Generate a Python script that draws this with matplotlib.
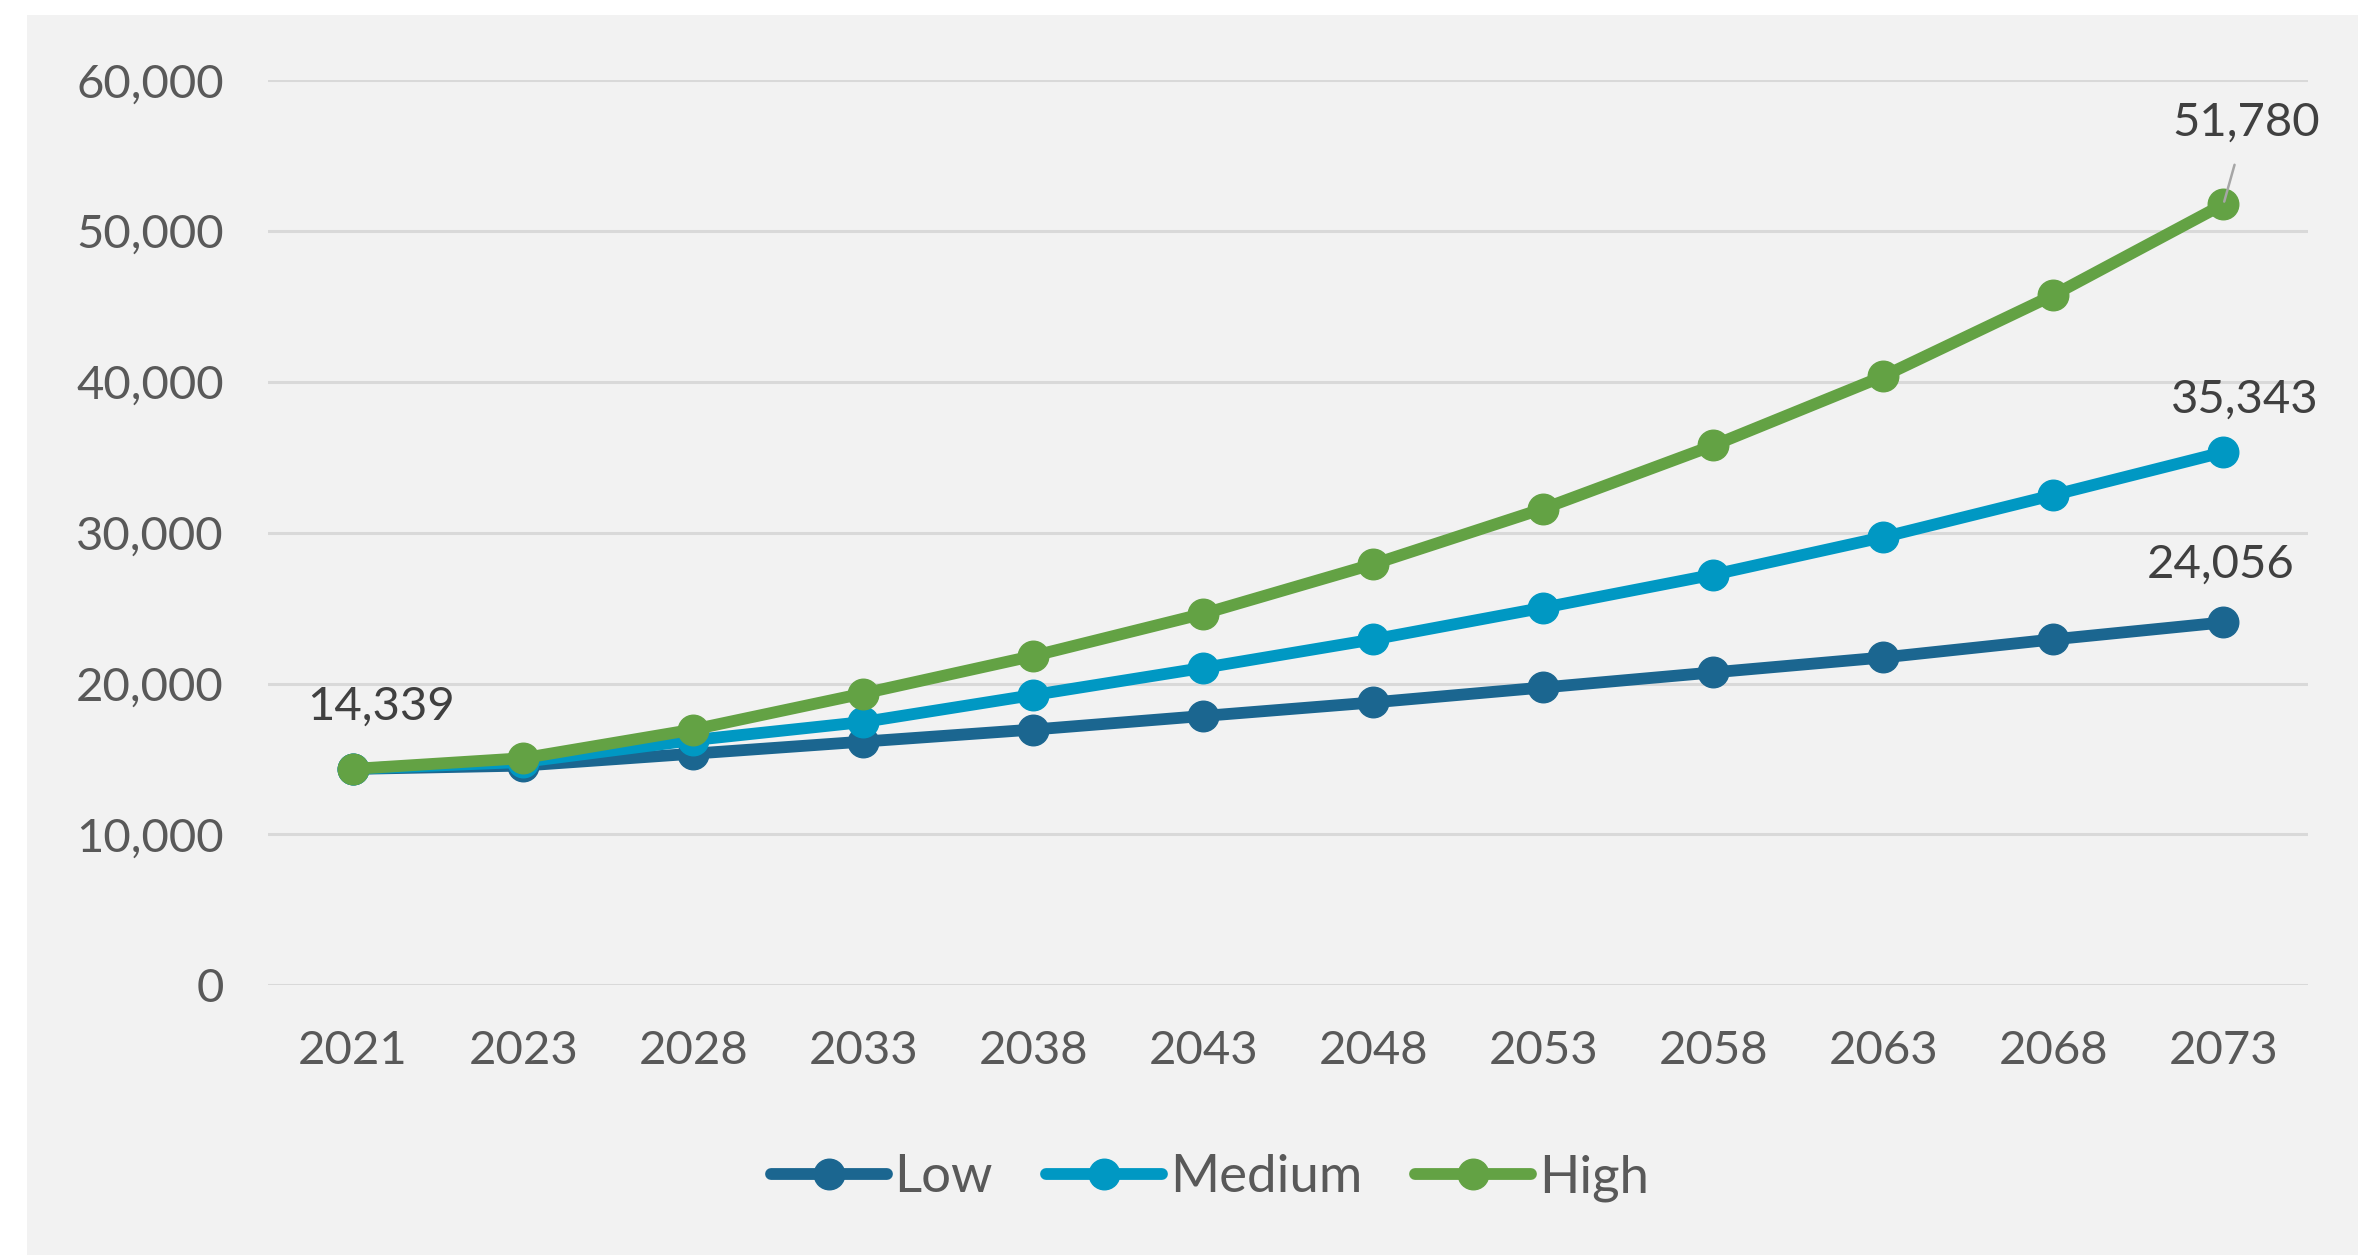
import matplotlib.pyplot as plt
from matplotlib.patches import Rectangle
from matplotlib.ticker import FuncFormatter

# Chart data
years = ["2021", "2023", "2028", "2033", "2038", "2043", "2048", "2053", "2058", "2063", "2068", "2073"]
low = [14339, 14560, 15350, 16150, 16950, 17850, 18750, 19740, 20740, 21730, 22930, 24056]
medium = [14339, 14800, 16250, 17450, 19240, 21040, 22930, 25030, 27220, 29710, 32500, 35343]
high = [14339, 15050, 16950, 19340, 21830, 24630, 27920, 31600, 35790, 40380, 45760, 51780]
series_names = ["Low", "Medium", "High"]
colors = ["#1b6690", "#0098c3", "#63a244"]

plt.rcParams["font.family"] = ["Lato", "DejaVu Sans"]

fig = plt.figure(figsize=(23.58, 12.55), dpi=100)
fig.patch.set_facecolor("white")
bg = Rectangle((27 / 2358, 0), 1, 1 - 15 / 1255, transform=fig.transFigure,
               facecolor="#f2f2f2", edgecolor="none", zorder=-10)
fig.patches.append(bg)

ax = fig.add_axes([0.1137, 0.215, 0.979 - 0.1137, 0.936 - 0.215])
ax.set_facecolor("none")
ax.set_zorder(2)

x = list(range(len(years)))
for vals, name, c in zip([low, medium, high], series_names, colors):
    ax.plot(x, vals, color=c, lw=8.5, marker="o", markersize=22, label=name,
            solid_capstyle="round", zorder=3)

ax.set_xlim(-0.5, len(years) - 0.5)
ax.set_ylim(0, 60000)
ax.set_yticks(range(0, 60001, 10000))
ax.yaxis.set_major_formatter(FuncFormatter(lambda v, p: f"{int(v):,}"))
ax.set_xticks(x)
ax.set_xticklabels(years)
ax.grid(axis="y", color="#d9d9d9", lw=2.2, zorder=1)
for s in ax.spines.values():
    s.set_visible(False)
ax.tick_params(length=0, labelsize=34, labelcolor="#595959")
ax.tick_params(axis="y", pad=32)
ax.tick_params(axis="x", pad=32)

# Data labels
lab = dict(fontsize=34, color="#404040", ha="center", va="center")
ax.annotate(f"{low[0]:,}", (0, low[0]), xytext=(28, 62), textcoords="offset pixels", **lab)
ax.annotate(f"{high[-1]:,}", (11, high[-1]), xytext=(23, 82), textcoords="offset pixels",
            arrowprops=dict(arrowstyle="-", color="#a6a6a6", lw=1.8, shrinkA=14, shrinkB=2), **lab)
ax.annotate(f"{medium[-1]:,}", (11, medium[-1]), xytext=(21, 52), textcoords="offset pixels", **lab)
ax.annotate(f"{low[-1]:,}", (11, low[-1]), xytext=(-3, 58), textcoords="offset pixels", **lab)

leg = fig.legend(loc="center", bbox_to_anchor=(0.513, 1 - 1178 / 1255), ncol=3, frameon=False,
                 fontsize=38, labelcolor="#595959", handlelength=2.2, handletextpad=0.15,
                 columnspacing=1.0)

fig.savefig("out.png", dpi=100, facecolor=fig.get_facecolor())
